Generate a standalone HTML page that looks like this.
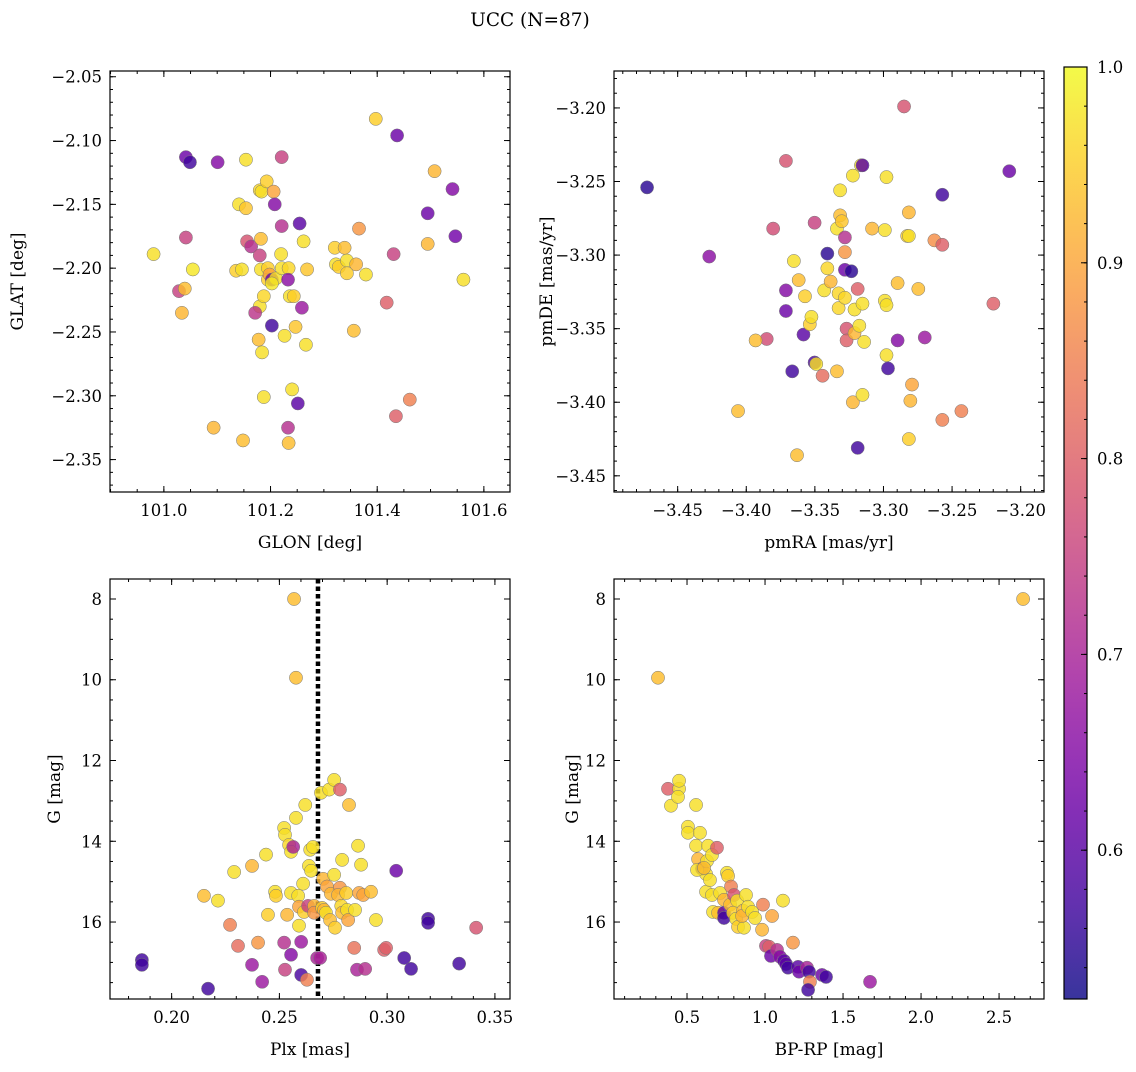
<!DOCTYPE html>
<html><head><meta charset="utf-8"><style>
html,body{margin:0;padding:0;background:#fff;}
svg text{font-family:"DejaVu Serif","Liberation Serif",serif;fill:#000;}
</style></head>
<body>
<svg id="fig" width="1136" height="1067" viewBox="0 0 1136 1067" xmlns="http://www.w3.org/2000/svg">
<text x="530" y="26" font-size="18.5" text-anchor="middle">UCC (N=87)</text>
</svg>
<script>
// ---- Panel 1: GLON vs GLAT ----
const glon=[101.0413,101.0489,101.1008,101.0413,101.0284,101.0392,101.0338,101.0543,100.9807,101.1409,101.1355,101.1463,101.0933,101.1539,101.1539,101.1560,101.1636,101.1798,101.1798,101.1874,101.1484,101.1798,101.1831,101.1928,101.2058,101.2079,101.1820,101.1820,101.1950,101.1950,101.1874,101.1982,101.2025,101.2101,101.2025,101.1712,101.1777,101.1841,101.2025,101.2209,101.2209,101.2198,101.2209,101.2339,101.2328,101.2361,101.2436,101.2263,101.2469,101.2404,101.2512,101.2328,101.2339,101.2545,101.2620,101.2685,101.2664,101.2588,101.3226,101.3280,101.3432,101.3205,101.3389,101.3659,101.3432,101.3605,101.3789,101.3562,101.3973,101.4373,101.4178,101.4308,101.4351,101.4611,101.4947,101.4947,101.5076,101.5412,101.5466,101.5617];
const glat=[-2.113,-2.117,-2.117,-2.176,-2.218,-2.216,-2.235,-2.201,-2.189,-2.150,-2.202,-2.201,-2.325,-2.115,-2.153,-2.179,-2.183,-2.190,-2.230,-2.301,-2.335,-2.139,-2.140,-2.132,-2.140,-2.150,-2.177,-2.201,-2.200,-2.209,-2.222,-2.205,-2.209,-2.208,-2.212,-2.235,-2.256,-2.266,-2.245,-2.113,-2.167,-2.189,-2.200,-2.200,-2.209,-2.222,-2.222,-2.253,-2.246,-2.295,-2.306,-2.325,-2.337,-2.165,-2.179,-2.201,-2.260,-2.231,-2.197,-2.199,-2.194,-2.184,-2.184,-2.169,-2.204,-2.197,-2.205,-2.249,-2.083,-2.096,-2.227,-2.189,-2.316,-2.303,-2.157,-2.181,-2.124,-2.138,-2.175,-2.209];
const prob1=[0.62,0.57,0.65,0.75,0.75,0.93,0.92,0.98,0.97,0.97,0.95,0.97,0.92,0.97,0.94,0.78,0.72,0.75,0.97,0.97,0.93,0.96,0.97,0.95,0.90,0.65,0.93,0.97,0.95,0.95,0.96,0.90,0.62,0.97,0.98,0.73,0.93,0.97,0.57,0.75,0.72,0.97,0.97,0.96,0.66,0.97,0.95,0.97,0.94,0.97,0.60,0.72,0.93,0.60,0.97,0.94,0.97,0.68,0.97,0.95,0.97,0.95,0.93,0.88,0.95,0.92,0.97,0.93,0.95,0.62,0.80,0.75,0.80,0.85,0.62,0.92,0.92,0.65,0.63,0.97];
// ---- Panel 2: pmRA vs pmDE ----
const pmra=[-3.4723,-3.4270,-3.4060,-3.3851,-3.3932,-3.3804,-3.3711,-3.3711,-3.3711,-3.3665,-3.3653,-3.3630,-3.3618,-3.3583,-3.3572,-3.3537,-3.3525,-3.3502,-3.3502,-3.3490,-3.3444,-3.3432,-3.3409,-3.3409,-3.3385,-3.3327,-3.3339,-3.3327,-3.3316,-3.3339,-3.3316,-3.3304,-3.3281,-3.3281,-3.3281,-3.3281,-3.3269,-3.3269,-3.3234,-3.3223,-3.3211,-3.3211,-3.3223,-3.3188,-3.3188,-3.3164,-3.3153,-3.3176,-3.3141,-3.3153,-3.3153,-3.3083,-3.2978,-3.2990,-3.2990,-3.2978,-3.2978,-3.2967,-3.2897,-3.2897,-3.2850,-3.2827,-3.2815,-3.2815,-3.2792,-3.2804,-3.2815,-3.2746,-3.2699,-3.2629,-3.2571,-3.2571,-3.2571,-3.2432,-3.2199,-3.2083];
const pmde=[-3.254,-3.301,-3.406,-3.357,-3.358,-3.282,-3.236,-3.324,-3.338,-3.379,-3.304,-3.436,-3.317,-3.354,-3.328,-3.347,-3.342,-3.278,-3.373,-3.374,-3.382,-3.324,-3.309,-3.299,-3.318,-3.326,-3.282,-3.336,-3.256,-3.379,-3.273,-3.277,-3.288,-3.298,-3.310,-3.329,-3.350,-3.358,-3.311,-3.246,-3.353,-3.337,-3.400,-3.323,-3.431,-3.239,-3.239,-3.348,-3.359,-3.395,-3.333,-3.282,-3.247,-3.283,-3.331,-3.334,-3.368,-3.377,-3.319,-3.358,-3.199,-3.287,-3.271,-3.287,-3.388,-3.399,-3.425,-3.323,-3.356,-3.290,-3.259,-3.293,-3.412,-3.406,-3.333,-3.243];
const prob2=[0.55,0.66,0.93,0.77,0.93,0.77,0.78,0.65,0.62,0.57,0.97,0.93,0.93,0.60,0.95,0.95,0.97,0.75,0.58,0.97,0.82,0.97,0.96,0.55,0.92,0.96,0.97,0.96,0.97,0.93,0.93,0.94,0.72,0.88,0.62,0.96,0.78,0.80,0.55,0.97,0.92,0.97,0.92,0.80,0.57,0.97,0.60,0.97,0.97,0.97,0.97,0.92,0.97,0.97,0.97,0.97,0.97,0.57,0.93,0.65,0.78,0.95,0.92,0.97,0.90,0.92,0.95,0.93,0.68,0.87,0.57,0.80,0.85,0.85,0.80,0.62];
// ---- Panel 3: Plx vs G ----
const plx=[0.2568,0.2577,0.1862,0.1862,0.2169,0.2150,0.2215,0.2290,0.2373,0.2271,0.2308,0.2373,0.2401,0.2420,0.2438,0.2447,0.2480,0.2484,0.2522,0.2526,0.2522,0.2526,0.2545,0.2536,0.2554,0.2554,0.2554,0.2564,0.2577,0.2587,0.2591,0.2591,0.2601,0.2601,0.2610,0.2614,0.2620,0.2628,0.2637,0.2633,0.2643,0.2647,0.2656,0.2661,0.2661,0.2675,0.2689,0.2693,0.2698,0.2703,0.2707,0.2716,0.2721,0.2731,0.2735,0.2739,0.2754,0.2754,0.2758,0.2781,0.2791,0.2781,0.2772,0.2787,0.2791,0.2814,0.2819,0.2823,0.2810,0.2847,0.2851,0.2860,0.2865,0.2879,0.2870,0.2889,0.2898,0.2925,0.2948,0.2986,0.2995,0.3042,0.3079,0.3111,0.3190,0.3190,0.3334,0.3413];
const gmag3=[8.0,9.95,16.94,17.06,17.65,15.35,15.47,14.76,14.61,16.07,16.59,17.06,16.51,17.48,14.33,15.82,15.25,15.35,13.67,13.84,16.51,17.18,14.09,15.82,14.26,15.28,16.81,14.14,13.42,15.35,16.09,15.62,17.31,16.49,15.05,15.75,13.10,17.43,14.61,15.60,14.21,14.73,14.14,15.60,15.77,16.89,16.89,12.80,15.65,14.93,15.70,15.77,15.12,12.72,15.95,15.30,12.48,14.83,16.14,12.72,14.46,15.15,15.33,15.60,15.77,15.70,15.95,13.10,15.28,16.64,15.70,17.18,14.11,14.58,15.28,15.33,17.16,15.25,15.95,16.69,16.64,14.73,16.89,17.16,15.92,16.02,17.03,16.14];
const prob3=[0.93,0.93,0.57,0.57,0.57,0.93,0.97,0.97,0.92,0.85,0.82,0.68,0.88,0.68,0.97,0.95,0.97,0.95,0.97,0.97,0.72,0.75,0.96,0.92,0.97,0.97,0.65,0.70,0.97,0.97,0.97,0.90,0.58,0.68,0.97,0.95,0.97,0.85,0.97,0.75,0.97,0.97,0.97,0.92,0.88,0.70,0.70,0.97,0.95,0.92,0.92,0.97,0.90,0.97,0.93,0.92,0.97,0.97,0.95,0.80,0.97,0.88,0.92,0.96,0.93,0.97,0.90,0.93,0.95,0.83,0.97,0.70,0.97,0.97,0.90,0.90,0.72,0.93,0.97,0.80,0.80,0.62,0.57,0.57,0.57,0.57,0.57,0.78];
const plxLine=0.2679;
// ---- Panel 4: BP-RP vs G ----
const bprp=[2.654,0.314,0.378,0.397,0.449,0.449,0.442,0.506,0.506,0.558,0.583,0.558,0.571,0.596,0.628,0.622,0.635,0.660,0.692,0.622,0.660,0.667,0.699,0.712,0.737,0.756,0.763,0.737,0.737,0.776,0.782,0.801,0.795,0.821,0.814,0.827,0.859,0.865,0.878,0.853,0.891,0.917,0.987,1.045,1.115,1.006,1.026,1.038,1.077,1.096,1.122,1.135,1.147,1.179,1.212,1.218,1.269,1.282,1.288,1.276,1.365,1.391,1.673,0.564,0.609,0.647,0.981,0.936];
const gmag4=[8.0,9.95,12.70,13.12,12.70,12.50,12.90,13.64,13.79,13.10,13.79,14.11,14.44,14.68,14.49,14.81,14.11,14.34,14.16,15.25,15.33,15.75,15.77,15.28,15.45,14.78,14.86,15.77,15.90,15.57,15.12,15.33,15.77,15.47,15.92,16.12,15.72,16.14,15.33,15.85,15.62,15.75,15.57,15.85,15.47,16.59,16.61,16.84,16.69,16.86,16.96,17.04,17.13,16.51,17.11,17.23,17.13,17.23,17.48,17.68,17.31,17.36,17.48,14.71,14.66,14.96,16.19,15.90];
const prob4=[0.93,0.93,0.80,0.97,0.97,0.97,0.97,0.97,0.97,0.97,0.97,0.97,0.92,0.60,0.97,0.97,0.97,0.97,0.80,0.97,0.97,0.97,0.93,0.97,0.92,0.97,0.95,0.60,0.57,0.93,0.85,0.78,0.95,0.97,0.97,0.95,0.93,0.97,0.97,0.92,0.97,0.97,0.85,0.90,0.97,0.75,0.80,0.62,0.72,0.65,0.60,0.60,0.57,0.88,0.60,0.62,0.70,0.57,0.85,0.57,0.62,0.57,0.68,0.97,0.93,0.97,0.92,0.97];
const cbTicks=[0.6,0.7,0.8,0.9,1.0];
const cmin=0.524,cmax=1.0;

const NS="http://www.w3.org/2000/svg";
const svg=document.getElementById('fig');
function mk(tag,attrs,parent){const e=document.createElementNS(NS,tag);for(const k in attrs)e.setAttribute(k,attrs[k]);(parent||svg).appendChild(e);return e;}
const stops=["#0d0887","#46039f","#7201a8","#9c179e","#bd3786","#d8576b","#ed7953","#fb9f3a","#fdca26","#f0f921"];
function hex(h){return[parseInt(h.substr(1,2),16),parseInt(h.substr(3,2),16),parseInt(h.substr(5,2),16)];}
function plasma(t){t=Math.max(0,Math.min(1,t));const s=t*(stops.length-1);const i=Math.min(stops.length-2,Math.floor(s));const f=s-i;const a=hex(stops[i]),b=hex(stops[i+1]);return`rgb(${a.map((v,k)=>Math.round(v+(b[k]-v)*f)).join(',')})`;}
function fmt(v,d){let s=v.toFixed(d);return s.replace('-','\u2212');}

function panel(o){
  const g=mk('g',{});
  
  
  const sx=v=>o.x0+(v-o.xr[0])/(o.xr[1]-o.xr[0])*o.w;
  const sy=o.inv?(v=>o.y0+(v-o.yr[0])/(o.yr[1]-o.yr[0])*o.h):(v=>o.y0+o.h-(v-o.yr[0])/(o.yr[1]-o.yr[0])*o.h);
  if(o.vline!==undefined){const l=mk('line',{x1:sx(o.vline),x2:sx(o.vline),y1:o.y0,y2:o.y0+o.h,stroke:'#000','stroke-width':4.5,'stroke-dasharray':'4.5,3'},g);
    }
  for(let i=0;i<o.xs.length;i++){
    const c=mk('circle',{cx:sx(o.xs[i]),cy:sy(o.ys[i]),r:6.6,fill:plasma((o.cs[i]-cmin)/(cmax-cmin)),'fill-opacity':0.82,stroke:'#777','stroke-width':0.5},g);
    
    
  }
  mk('rect',{x:o.x0,y:o.y0,width:o.w,height:o.h,fill:'none',stroke:'#000','stroke-width':1.2},g);
  const eps=1e-9;
  function ticks(range,step){const a=[];let v=Math.ceil((range[0]-eps)/step)*step;for(;v<=range[1]+eps;v+=step)a.push(+v.toFixed(6));return a;}
  ticks(o.xr,o.xminor).forEach(v=>{const X=sx(v);mk('line',{x1:X,x2:X,y1:o.y0+o.h,y2:o.y0+o.h-3,stroke:'#000'},g);mk('line',{x1:X,x2:X,y1:o.y0,y2:o.y0+3,stroke:'#000'},g);});
  ticks(o.yr,o.yminor).forEach(v=>{const Y=sy(v);mk('line',{x1:o.x0,x2:o.x0+3,y1:Y,y2:Y,stroke:'#000'},g);mk('line',{x1:o.x0+o.w,x2:o.x0+o.w-3,y1:Y,y2:Y,stroke:'#000'},g);});
  ticks(o.xr,o.xmajor).forEach(v=>{const X=sx(v);mk('line',{x1:X,x2:X,y1:o.y0+o.h,y2:o.y0+o.h-6,stroke:'#000'},g);mk('line',{x1:X,x2:X,y1:o.y0,y2:o.y0+6,stroke:'#000'},g);
    const t=mk('text',{x:X,y:o.y0+o.h+24,'font-size':16.5,'text-anchor':'middle'},g);t.textContent=fmt(v,o.xd);
    });
  ticks(o.yr,o.ymajor).forEach(v=>{const Y=sy(v);mk('line',{x1:o.x0,x2:o.x0+6,y1:Y,y2:Y,stroke:'#000'},g);mk('line',{x1:o.x0+o.w,x2:o.x0+o.w-6,y1:Y,y2:Y,stroke:'#000'},g);
    const t=mk('text',{x:o.x0-8,y:Y+6,'font-size':16.5,'text-anchor':'end'},g);t.textContent=fmt(v,o.yd);
    });
  const xl=mk('text',{x:o.x0+o.w/2,y:o.y0+o.h+56,'font-size':17,'text-anchor':'middle'},g);xl.textContent=o.xlab;
  
  const yx=o.ylx,yy=o.y0+o.h/2;
  const yl=mk('text',{x:yx,y:yy,'font-size':17,'text-anchor':'middle',transform:`rotate(-90 ${yx} ${yy})`},g);yl.textContent=o.ylab;
  
}
panel({name:'glon-glat-panel',x0:110,y0:71,w:400,h:421,xr:[100.899,101.649],yr:[-2.3754,-2.0455],xs:glon,ys:glat,cs:prob1,xmajor:0.2,xminor:0.05,ymajor:0.05,yminor:0.01,xd:1,yd:2,xlab:'GLON [deg]',ylab:'GLAT [deg]',ylx:23});
panel({name:'pm-panel',x0:614,y0:71,w:430,h:421,xr:[-3.4964,-3.183],yr:[-3.4610,-3.1749],xs:pmra,ys:pmde,cs:prob2,xmajor:0.05,xminor:0.01,ymajor:0.05,yminor:0.01,xd:2,yd:2,xlab:'pmRA [mas/yr]',ylab:'pmDE [mas/yr]',ylx:552});
panel({name:'plx-g-panel',x0:110,y0:579,w:400,h:420,xr:[0.1714,0.357],yr:[7.505,17.906],inv:true,xs:plx,ys:gmag3,cs:prob3,xmajor:0.05,xminor:0.01,ymajor:2,yminor:0.5,xd:2,yd:0,xlab:'Plx [mas]',ylab:'G [mag]',ylx:60,vline:plxLine});
panel({name:'cmd-panel',x0:614,y0:579,w:430,h:420,xr:[0.032,2.788],yr:[7.505,17.906],inv:true,xs:bprp,ys:gmag4,cs:prob4,xmajor:0.5,xminor:0.1,ymajor:2,yminor:0.5,xd:1,yd:0,xlab:'BP-RP [mag]',ylab:'G [mag]',ylx:578});

const cb=mk('g',{});


const defs=mk('defs',{},cb);
const lg=mk('linearGradient',{id:'cbg',x1:0,y1:1,x2:0,y2:0},defs);
for(let i=0;i<=20;i++){mk('stop',{offset:i/20,'stop-color':plasma(i/20),'stop-opacity':0.82},lg);}
const cx0=1064,cy0=67,cw=23,ch=932;
mk('rect',{x:cx0,y:cy0,width:cw,height:ch,fill:'url(#cbg)',stroke:'#000','stroke-width':1.2},cb);
const cby=v=>cy0+ch-(v-cmin)/(cmax-cmin)*ch;
for(let v=0.54;v<=1.0001;v+=0.02){const Y=cby(v);mk('line',{x1:cx0+cw,x2:cx0+cw-3,y1:Y,y2:Y,stroke:'#000'},cb);}
cbTicks.forEach(v=>{const Y=cby(v);mk('line',{x1:cx0+cw,x2:cx0+cw-6,y1:Y,y2:Y,stroke:'#000'},cb);
  const t=mk('text',{x:1097,y:Y+6,'font-size':16.5},cb);t.textContent=v.toFixed(1);
  });
</script>
</body></html>
